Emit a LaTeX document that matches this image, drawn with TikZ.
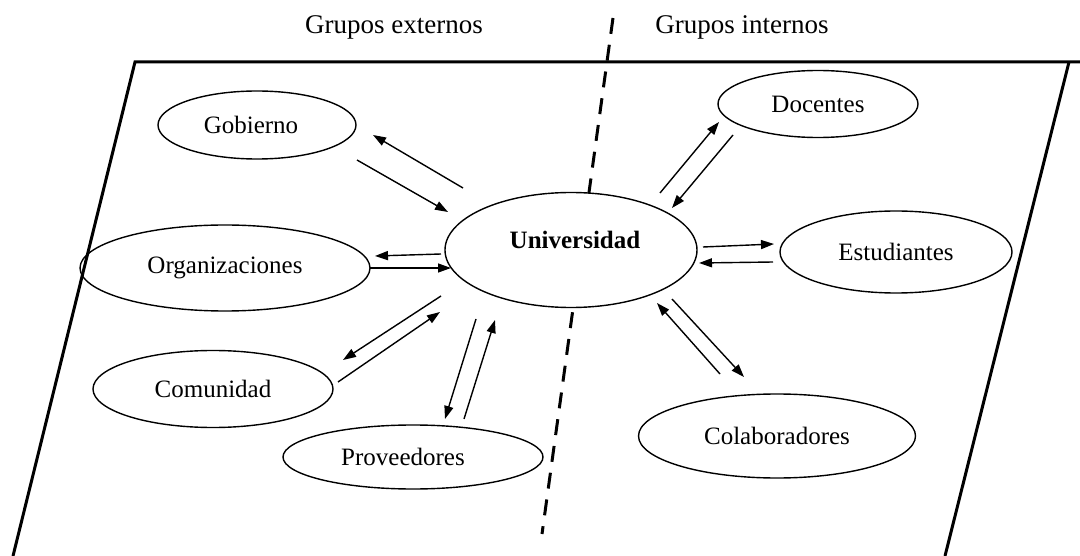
\documentclass[tikz,border=0pt]{standalone}
\usepackage{fontspec}
\setmainfont{Liberation Serif}
\usetikzlibrary{shapes.geometric,arrows.meta}
\begin{document}
\begin{tikzpicture}[x=1pt,y=-1pt,
  ell/.style={ellipse,draw,fill=white,line width=1.4pt,inner sep=0pt,font=\fontsize{25}{30}\selectfont},
  arr/.style={line width=1.4pt,-{Triangle[length=13pt,width=9pt]}},
  border/.style={line width=3pt},
  divider/.style={line width=3pt,dash pattern=on 16pt off 11pt},
  heading/.style={font=\fontsize{27}{32}\selectfont}]
\useasboundingbox (0,0) rectangle (1080,556);
% divider
\coordinate (dt) at (613,18);
\coordinate (db) at (542,534);
\draw[divider] (dt) -- (db);
% headings
\node[heading] (ext) at (394,27) {Grupos externos};
\node[heading] (int) at (742,27) {Grupos internos};
% ellipses
\node[ell,minimum width=198pt,minimum height=68pt] (gob) at (257,125) {\hspace*{-12pt}Gobierno};
\node[ell,minimum width=290pt,minimum height=86pt] (org) at (225,268) {Organizaciones};
\node[ell,minimum width=240pt,minimum height=77pt] (com) at (213,389) {Comunidad};
\node[ell,minimum width=260pt,minimum height=64pt] (pro) at (413,457) {\hspace*{-20pt}Proveedores};
\node[ell,minimum width=252pt,minimum height=115pt] (uni) at (571,250) {};
\node[font=\fontsize{25}{30}\selectfont\bfseries] (unit) at (575,240) {Universidad};
\node[ell,minimum width=200pt,minimum height=67pt] (doc) at (818,104) {Docentes};
\node[ell,minimum width=232pt,minimum height=82pt] (est) at (896,252) {Estudiantes};
\node[ell,minimum width=277pt,minimum height=84pt] (col) at (777,436) {Colaboradores};
% frame (drawn over the ellipses)
\coordinate (tl) at (135,62);
\coordinate (tr) at (1080,62);
\coordinate (rt) at (1069,62);
\coordinate (rb) at (945,556);
\coordinate (lb) at (13,556);
\draw[border] (lb) -- (tl) -- (tr);
\draw[border] (rt) -- (rb);
% arrow end points
\coordinate (g1s) at (463,188); \coordinate (g1e) at (373,135);
\coordinate (g2s) at (357,160); \coordinate (g2e) at (448,212);
\coordinate (o1s) at (441,254); \coordinate (o1e) at (375,256);
\coordinate (o2s) at (370,268); \coordinate (o2e) at (451,268);
\coordinate (c1s) at (441,296); \coordinate (c1e) at (343,360);
\coordinate (c2s) at (338,382); \coordinate (c2e) at (440,312);
\coordinate (p1s) at (476,319); \coordinate (p1e) at (445,419);
\coordinate (p2s) at (464,419); \coordinate (p2e) at (495,320);
\coordinate (d1s) at (660,193); \coordinate (d1e) at (719,122);
\coordinate (d2s) at (733,135); \coordinate (d2e) at (672,208);
\coordinate (e1s) at (703,247); \coordinate (e1e) at (774,244);
\coordinate (e2s) at (773,262); \coordinate (e2e) at (699,263);
\coordinate (k1s) at (720,374); \coordinate (k1e) at (657,303);
\coordinate (k2s) at (672,299); \coordinate (k2e) at (744,377);
% arrows
\draw[arr] (g1s) -- (g1e);
\draw[arr] (g2s) -- (g2e);
\draw[arr] (o1s) -- (o1e);
\draw[arr] (o2s) -- (o2e);
\draw[arr] (c1s) -- (c1e);
\draw[arr] (c2s) -- (c2e);
\draw[arr] (p1s) -- (p1e);
\draw[arr] (p2s) -- (p2e);
\draw[arr] (d1s) -- (d1e);
\draw[arr] (d2s) -- (d2e);
\draw[arr] (e1s) -- (e1e);
\draw[arr] (e2s) -- (e2e);
\draw[arr] (k1s) -- (k1e);
\draw[arr] (k2s) -- (k2e);
\end{tikzpicture}
\end{document}
